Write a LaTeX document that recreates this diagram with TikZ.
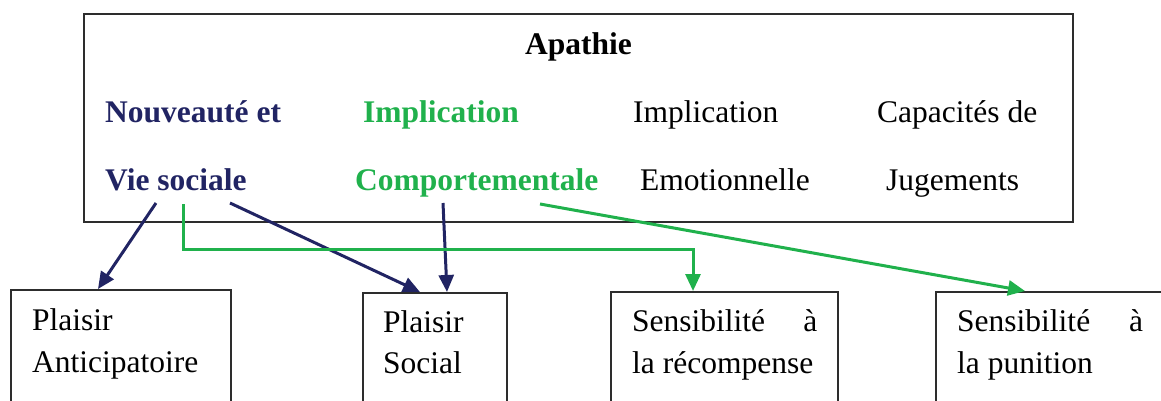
\documentclass[tikz,border=0pt]{standalone}
\usepackage{fontspec}
\setmainfont{Liberation Serif}
\usetikzlibrary{arrows.meta,calc}
\definecolor{navyc}{RGB}{33,36,99}
\definecolor{greenc}{RGB}{32,177,76}
\definecolor{boxc}{RGB}{45,45,45}
\tikzset{
  box/.style={draw=boxc, line width=1.8pt, rectangle, inner sep=0pt, anchor=north west},
  txt/.style={anchor=base west, inner sep=0pt, font=\fontsize{31.5}{38}\selectfont},
  navyarrow/.style={draw=navyc, line width=3pt, -{Triangle[length=17pt,width=15pt]}},
  greenarrow/.style={draw=greenc, line width=3pt, -{Triangle[length=17pt,width=15pt]}},
}
\begin{document}
\begin{tikzpicture}[x=1pt,y=-1pt]
\useasboundingbox (0,0) rectangle (1161,401);
\clip (0,0) rectangle (1161,401);
% top box
\node[box, minimum width=989pt, minimum height=208pt] (top) at (83,13) {};
\node[txt, anchor=base, font=\fontsize{31.5}{38}\selectfont\bfseries] (apathie) at (578.5,55) {Apathie};
\node[txt, text=navyc, font=\fontsize{31.5}{38}\selectfont\bfseries] (nv) at (105,123) {Nouveauté et};
\node[txt, text=navyc, font=\fontsize{31.5}{38}\selectfont\bfseries] (vs) at (105,190) {Vie sociale};
\node[txt, text=greenc, font=\fontsize{31.5}{38}\selectfont\bfseries] (ic) at (363,123) {Implication};
\node[txt, text=greenc, font=\fontsize{31.5}{38}\selectfont\bfseries] (cp) at (355,190) {Comportementale};
\node[txt] (ie) at (633,123) {Implication};
\node[txt] (em) at (640,190) {Emotionnelle};
\node[txt] (cj) at (877,123) {Capacités de};
\node[txt] (jg) at (886,190) {Jugements};
% bottom boxes
\node[box, minimum width=220pt, minimum height=160pt] (b1) at (10,289) {};
\node[box, minimum width=144pt, minimum height=160pt] (b2) at (362,292) {};
\node[box, minimum width=227pt, minimum height=160pt] (b3) at (610,291) {};
\node[box, minimum width=300pt, minimum height=160pt] (b4) at (935,291) {};
\node[txt] (b1a) at (32,330) {Plaisir};
\node[txt] (b1b) at (32,372) {Anticipatoire};
\node[txt] (b2a) at (383,332) {Plaisir};
\node[txt] (b2b) at (383,373) {Social};
\node[txt] (b3a) at (632,331) {\hbox to 185pt{Sensibilité\hfill à}};
\node[txt] (b3b) at (632,373) {la récompense};
\node[txt] (b4a) at (957,331) {\hbox to 186pt{Sensibilité\hfill à}};
\node[txt] (b4b) at (957,373) {la punition};
% connectors
\draw[navyarrow] ($(vs.base west)+(51,13)$) -- ($(b1.north west)+(88,0)$);
\draw[navyarrow] ($(vs.base west)+(125,13)$) -- ($(b2.north west)+(58,0)$);
\draw[navyarrow] ($(cp.base west)+(88,13)$) -- ($(b2.north west)+(85,0)$);
\draw[greenarrow] ($(vs.base west)+(78,14)$) |- ($(b3.north west)+(83,-42)$) -- ($(b3.north west)+(83,0)$);
\draw[greenarrow] ($(cp.base west)+(185,14)$) -- ($(b4.north west)+(90,0)$);
\end{tikzpicture}
\end{document}
